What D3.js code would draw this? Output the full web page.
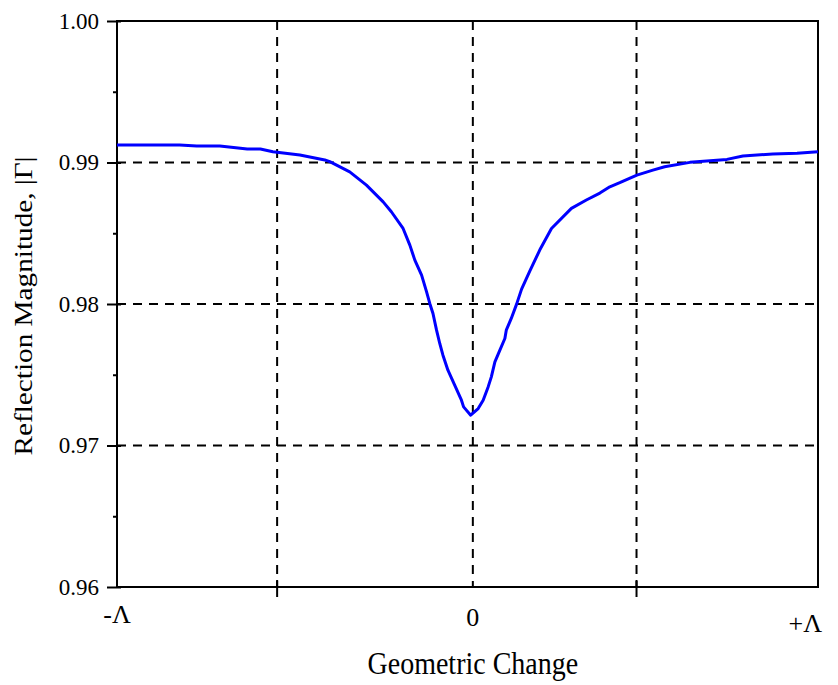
<!DOCTYPE html>
<html>
<head>
<meta charset="utf-8">
<script src="https://cdn.jsdelivr.net/npm/d3@7"></script>
<style>
  html, body { margin: 0; padding: 0; background: #fff; }
  svg { display: block; }
  svg text { font-family: "Liberation Serif", "Times New Roman", serif; }
</style>
</head>
<body>
<svg id="chart" width="838" height="685"></svg>
<script>
// geometric change, in percent of Lambda (left end = -Λ, right end = +Λ)
const geoChange = [-100, -90.8, -82.4, -77.6, -71.1, -63.4, -59.7, -56.2, -48.6, -41.6, -40.2,
  -34.6, -29.9, -25.2, -22.9, -19.6, -17.7, -16.3, -14.4, -13.0, -12.1, -11.2, -10.2, -9.3,
  -8.4, -7.0, -5.1, -3.2, -2.6, -0.6, 1.5, 2.9, 4.3, 5.2, 6.2, 7.6, 9.0, 9.4, 10.8, 12.3,
  13.7, 16.0, 18.8, 22.1, 27.7, 31.9, 35.7, 38.5, 41.3, 46.1, 50.6, 53.9, 61.0, 71.4, 75.9,
  84.3, 91.1, 97];
// |Γ|
const reflection = [0.99123, 0.99123, 0.99123, 0.99116, 0.99116, 0.99095, 0.99095, 0.99076,
  0.99053, 0.99018, 0.99006, 0.98934, 0.98840, 0.98722, 0.98652, 0.98534, 0.98416, 0.98310,
  0.98204, 0.98086, 0.98004, 0.97933, 0.97815, 0.97721, 0.97638, 0.97532, 0.97426, 0.97320,
  0.97273, 0.97214, 0.97261, 0.97320, 0.97414, 0.97485, 0.97591, 0.97674, 0.97756, 0.97815,
  0.97898, 0.97999, 0.98105, 0.98232, 0.98381, 0.98534, 0.98676, 0.98735, 0.98784, 0.98828,
  0.98857, 0.98911, 0.98946, 0.98970, 0.99001, 0.99022, 0.99046, 0.99060, 0.99065, 0.99076];

const yMajor = [0.96, 0.97, 0.98, 0.99, 1.00];
const yMinor = [0.965, 0.975, 0.985, 0.995];
const yGrid = [0.97, 0.98, 0.99];
const xGrid = [-55, 0, 46];
const xTickMarks = [-55, 46];
const xLabels = [
  {v: -100, text: '-\u039B', anchor: 'middle', dy: 0, dx: 0},
  {v: 0, text: '0', anchor: 'middle', dy: 3, dx: 0},
  {v: 97, text: '+\u039B', anchor: 'end', dy: 9, dx: 4}
];

function drawChart(){
  const svg = d3.select('#chart');
  svg.selectAll('*').remove();

  const margin = {top: 21, left: 117, right: 20, bottom: 98};
  const width = 838 - margin.left - margin.right;
  const height = 685 - margin.top - margin.bottom;

  const x = d3.scaleLinear().domain([-100, 97]).range([0, width]);
  const y = d3.scaleLinear().domain([0.96, 1.00]).range([height, 0]);

  const g = svg.append('g').attr('transform', `translate(${margin.left}, ${margin.top})`);

  // grid lines
  g.selectAll('.hgrid').data(yGrid).enter().append('line')
    .attr('x1', 0).attr('x2', width)
    .attr('y1', d => y(d)).attr('y2', d => y(d))
    .attr('stroke', '#000').attr('stroke-width', 2).attr('stroke-dasharray', '9,7');

  g.selectAll('.vgrid').data(xGrid).enter().append('line')
    .attr('x1', d => x(d)).attr('x2', d => x(d))
    .attr('y1', 0).attr('y2', height)
    .attr('stroke', '#000').attr('stroke-width', 2).attr('stroke-dasharray', '9,7');

  // y axis, major + minor
  const yAxis = g.append('g')
    .call(d3.axisLeft(y).tickValues(yMajor).tickFormat(d3.format('.2f')).tickSize(10).tickPadding(8));
  yAxis.select('.domain').remove();
  yAxis.selectAll('line').attr('stroke-width', 2).attr('x2', -10).attr('x1', 4);
  yAxis.selectAll('text')
    .style('font-family', '"Liberation Serif", "Times New Roman", serif')
    .style('font-size', '23px')
    .attr('fill', '#000');

  const yMinorAxis = g.append('g')
    .call(d3.axisLeft(y).tickValues(yMinor).tickFormat('').tickSize(4));
  yMinorAxis.select('.domain').remove();
  yMinorAxis.selectAll('line').attr('stroke-width', 2);

  // x ticks crossing the bottom axis
  g.selectAll('.xtick').data(xTickMarks).enter().append('line')
    .attr('x1', d => x(d)).attr('x2', d => x(d))
    .attr('y1', height - 7).attr('y2', height + 10)
    .attr('stroke', '#000').attr('stroke-width', 2);

  g.selectAll('.xlab').data(xLabels).enter().append('text')
    .attr('x', d => x(d.v) + d.dx)
    .attr('y', d => height + 36 + d.dy)
    .attr('text-anchor', d => d.anchor)
    .style('font-size', '26px')
    .text(d => d.text);

  // frame
  g.append('rect')
    .attr('width', width).attr('height', height)
    .attr('fill', 'none').attr('stroke', '#000').attr('stroke-width', 2);

  // curve
  const pts = geoChange.map((d, i) => [d, reflection[i]]);
  const line = d3.line().x(d => x(d[0])).y(d => y(d[1]));
  g.append('path')
    .datum(pts)
    .attr('d', line)
    .attr('fill', 'none')
    .attr('stroke', '#0000ff')
    .attr('stroke-width', 3)
    .attr('stroke-linejoin', 'round');

  // axis titles (original figure is a bit stretched vertically)
  g.append('text')
    .attr('transform', `translate(${x(0)}, ${height + 87}) scale(1, 1.12)`)
    .attr('text-anchor', 'middle')
    .style('font-size', '28px')
    .text('Geometric Change');

  g.append('text')
    .attr('transform', `translate(${32 - margin.left}, ${height / 2 + 2}) rotate(-90) scale(1.17, 1)`)
    .attr('text-anchor', 'middle')
    .style('font-size', '25px')
    .text('Reflection Magnitude, |\u0393|');
}

drawChart();
</script>
</body>
</html>
